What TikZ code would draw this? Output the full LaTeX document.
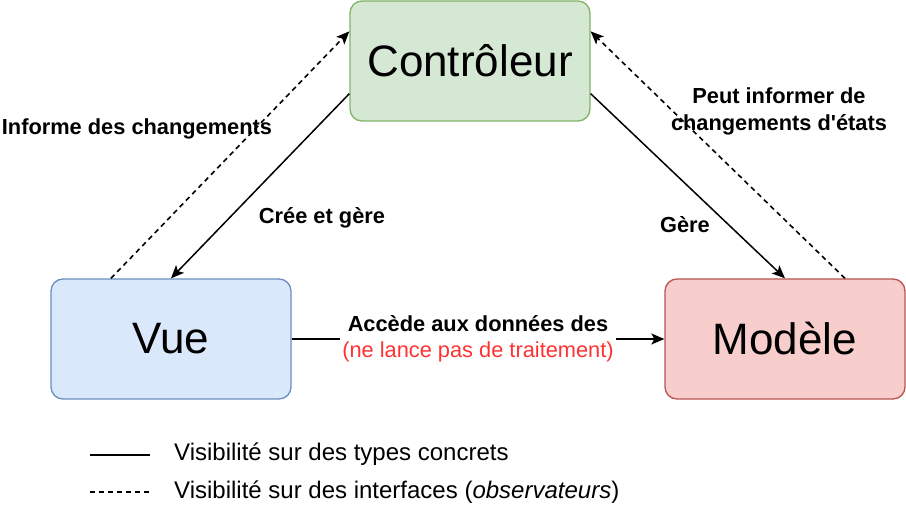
\documentclass[tikz,border=0pt]{standalone}
\usepackage{fontspec}
\setmainfont{Liberation Sans}
\newfontfamily\plainfont{Liberation Sans}
\usetikzlibrary{arrows.meta}
\definecolor{gfill}{HTML}{D5E8D4}\definecolor{gdraw}{HTML}{82B366}
\definecolor{bfill}{HTML}{DAE8FC}\definecolor{bdraw}{HTML}{6C8EBF}
\definecolor{rfill}{HTML}{F8CECC}\definecolor{rdraw}{HTML}{B85450}
\definecolor{redtxt}{HTML}{FF3333}
\begin{document}
\begin{tikzpicture}[x=1pt,y=-1pt,
  box/.style={rounded corners=12pt, line width=1.3pt, minimum width=240pt, minimum height=120pt, inner sep=0pt, font=\fontsize{44}{52}\selectfont},
  conn/.style={line width=1.5pt, -{Stealth[length=13pt,width=11pt,inset=3pt]}},
  dashconn/.style={conn, line width=1.6pt, dash pattern=on 5pt off 4pt},
  lbl/.style={font=\fontsize{21.8}{27}\selectfont\bfseries, align=center, inner sep=1pt},
  legend/.style={font=\fontsize{24}{28}\selectfont, anchor=west, inner sep=0pt}]
\useasboundingbox (0,0) rectangle (906,524);
\node[box, fill=gfill, draw=gdraw] (ctrl) at (470,61) {Contrôleur};
\node[box, fill=bfill, draw=bdraw] (vue) at (171,339) {Vue};
\node[box, fill=rfill, draw=rdraw] (mod) at (785,339) {Modèle};
% connectors
\draw[conn] ([yshift=28pt]ctrl.south west) -- (vue.north);
\draw[dashconn] ([xshift=-60pt]vue.north) -- ([yshift=-31pt]ctrl.north west);
\draw[conn] ([yshift=28pt]ctrl.south east) -- (mod.north);
\draw[dashconn] ([xshift=60pt]mod.north) -- ([yshift=-31pt]ctrl.north east);
\draw[conn] (vue.east) -- node[fill=white, font=\fontsize{21.8}{26}\selectfont, align=center, inner sep=2pt] (acc) {\textbf{Accède aux données des}\\\textcolor{redtxt}{(ne lance pas de traitement)}} (mod.west);
% labels
\node[lbl] (l1) at (137,129) {Informe des changements};
\node[lbl] (l2) at (322,218) {Crée et gère};
\node[lbl] (l3) at (685,225) {Gère};
\node[lbl] (l4) at (779,111) {Peut informer de\\changements d{\plainfont\bfseries '}états};
% legend
\coordinate (s1) at (90,455); \coordinate (e1) at (150,455);
\coordinate (s2) at (90,492); \coordinate (e2) at (150,492);
\draw[line width=1.5pt] (s1) -- (e1);
\draw[line width=1.6pt, dash pattern=on 5pt off 4pt] (s2) -- (e2);
\node[legend] (t1) at (174,454) {Visibilité sur des types concrets};
\node[legend] (t2) at (174,492) {Visibilité sur des interfaces (\textit{observateurs})};
\end{tikzpicture}
\end{document}
